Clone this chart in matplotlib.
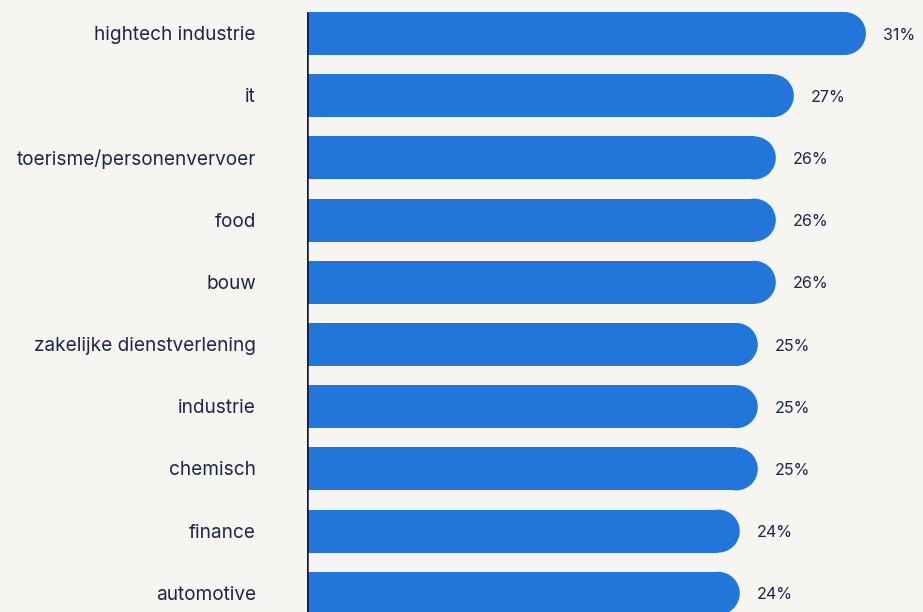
import matplotlib.pyplot as plt
from matplotlib.patches import Ellipse

categories = ["hightech industrie", "it", "toerisme/personenvervoer", "food", "bouw",
              "zakelijke dienstverlening", "industrie", "chemisch", "finance", "automotive"]
values = [31, 27, 26, 26, 26, 25, 25, 25, 24, 24]

bg = "#f6f5f1"
blue = "#2376d9"
ink = "#1f2548"

plt.rcParams['font.family'] = ['Inter', 'DejaVu Sans']

fig = plt.figure(figsize=(9.23, 6.12), dpi=100, facecolor=bg)
ax = fig.add_axes([307 / 923, 0, 616 / 923, 1])
ax.set_facecolor(bg)

px_per_unit = 18.03
row = 62.2
h = 43 / row
xmax = 616 / px_per_unit
ax.set_xlim(0, xmax)
ax.set_ylim((612 - 33.5) / row, -33.5 / row)

# radius of the rounded end, in data units along x
rx = (43 / 2) / px_per_unit
# small downward nudge for the text baseline
dy = 1.5 / row

for i, (cat, v) in enumerate(zip(categories, values)):
    ax.barh(i, v - rx, height=h, left=0, color=blue, linewidth=0)
    ax.add_patch(Ellipse((v - rx, i), 2 * rx, h, color=blue, linewidth=0))
    ax.text(v + 17 / px_per_unit, i + dy, f"{v}%", va="center", ha="left",
            fontsize=11.6, color=ink)
    ax.text(-51 / px_per_unit, i + dy, cat, va="center", ha="right",
            fontsize=13.7, color=ink, clip_on=False)

ax.plot([0, 0], [-h / 2, 12], color="#14163a", linewidth=1.8, clip_on=True,
        solid_capstyle="butt")

for s in ax.spines.values():
    s.set_visible(False)
ax.set_xticks([])
ax.set_yticks([])

fig.savefig("out.png", dpi=100, facecolor=bg)
